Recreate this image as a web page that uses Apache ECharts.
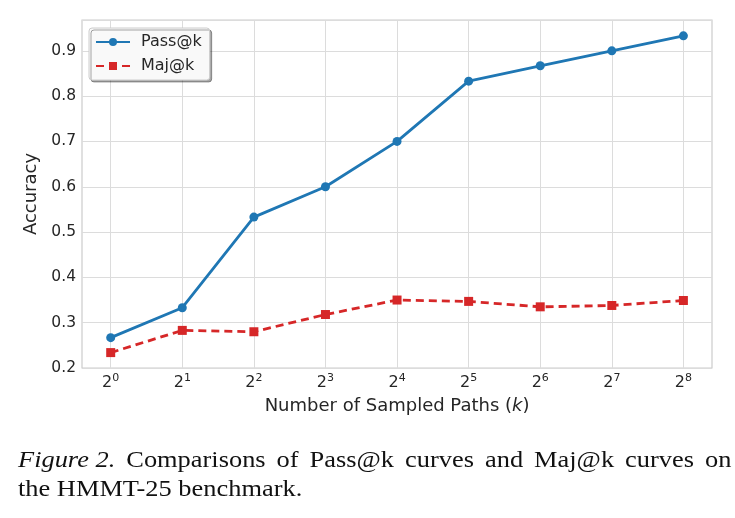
<!DOCTYPE html>
<html>
<head>
<meta charset="utf-8">
<script src="https://cdn.jsdelivr.net/npm/echarts@6/dist/echarts.min.js"></script>
<style>
html, body { margin: 0; padding: 0; background: #fff; }
#chart { width: 735px; height: 518px; }
</style>
</head>
<body>
<div id="chart"></div>
<script>
// data (x = log2 of k)
var exponents = [0, 1, 2, 3, 4, 5, 6, 7, 8];
var passAtK = [0.267, 0.333, 0.533, 0.600, 0.700, 0.833, 0.867, 0.900, 0.933];
var majAtK = [0.234, 0.283, 0.280, 0.318, 0.350, 0.347, 0.335, 0.338, 0.349];
var yTicks = [0.2, 0.3, 0.4, 0.5, 0.6, 0.7, 0.8, 0.9];
var captionLine1 = ['Comparisons', 'of', 'Pass@k', 'curves', 'and', 'Maj@k', 'curves', 'on'];
var captionLine2 = 'the HMMT-25 benchmark.';

var BLUE = '#1f77b4';
var RED = '#d62728';
var FONT = 'DejaVu Sans';
var SERIF = 'Liberation Serif';

function pairs(vals) {
	return exponents.map(function (e, i) { return [e, vals[i]]; });
}

// first caption line is justified in the paper, so spaces are a bit wider
var caption = '{i|Figure 2.}{w| }' + captionLine1.join('{w| }') + '\n' + captionLine2;

var chart = echarts.init(document.getElementById('chart'));

chart.setOption({
	animation: false,
	backgroundColor: '#fff',
	graphic: [{
		type: 'text',
		x: 18,
		y: 446,
		scaleX: 1.1,
		style: {
			text: caption,
			fontFamily: SERIF,
			fontSize: 24,
			lineHeight: 29,
			fill: '#111',
			verticalAlign: 'top',
			rich: {
				i: { fontFamily: SERIF, fontSize: 24, fontStyle: 'italic', fill: '#111', lineHeight: 29 },
				w: { fontFamily: SERIF, fontSize: 24, width: 10, lineHeight: 29 }
			}
		}
	}],
	legend: {
		left: 89,
		top: 28,
		orient: 'vertical',
		itemWidth: 34,
		itemHeight: 10,
		itemGap: 8,
		padding: [6, 8, 6, 6],
		backgroundColor: '#f9f9f9',
		borderColor: '#cccccc',
		borderWidth: 1,
		borderRadius: 3,
		shadowColor: 'rgba(0,0,0,0.35)',
		shadowBlur: 0,
		shadowOffsetX: 2,
		shadowOffsetY: 2,
		textStyle: { fontFamily: FONT, fontSize: 16, color: '#262626', padding: [0, 0, 0, 6] },
		data: ['Pass@k', 'Maj@k']
	},
	grid: [
		{ left: 82, top: 20, width: 630, height: 348, show: true, borderColor: '#cccccc', borderWidth: 1.2, containLabel: false },
		{ left: 110.7, top: 20, width: 572.7, height: 348, containLabel: false }
	],
	xAxis: [
		{ gridIndex: 0, type: 'value', min: 0, max: 1, show: false },
		{
			gridIndex: 1,
			type: 'value',
			min: 0,
			max: 8,
			interval: 1,
			axisLine: { show: false },
			axisTick: { show: false },
			splitLine: { show: true, lineStyle: { color: '#dcdcdc', width: 1 } },
			axisLabel: {
				margin: 5,
				color: '#262626',
				formatter: function (v) { return '{b|2}{s|' + v + '}'; },
				rich: {
					b: { fontFamily: FONT, fontSize: 16, color: '#262626' },
					s: { fontFamily: FONT, fontSize: 11, color: '#262626', padding: [0, 0, 9, 0] }
				}
			},
			name: 'Number of Sampled Paths ({k|k})',
			nameLocation: 'middle',
			nameGap: 29,
			nameTextStyle: {
				fontFamily: FONT,
				fontSize: 18,
				color: '#262626',
				rich: { k: { fontFamily: FONT, fontSize: 18, fontStyle: 'italic', color: '#262626' } }
			}
		}
	],
	yAxis: [
		{
			gridIndex: 0,
			type: 'value',
			min: 0.2,
			max: 0.968,
			interval: 0.1,
			axisLine: { show: false },
			axisTick: { show: false },
			splitLine: { show: true, lineStyle: { color: '#dcdcdc', width: 1 } },
			axisLabel: {
				margin: 6,
				fontFamily: FONT,
				fontSize: 15.5,
				color: '#262626',
				showMaxLabel: false,
				formatter: function (v) {
					var t = Math.round(v * 10) / 10;
					return yTicks.indexOf(t) >= 0 ? t.toFixed(1) : '';
				}
			},
			name: 'Accuracy',
			nameLocation: 'middle',
			nameGap: 39,
			nameTextStyle: { fontFamily: FONT, fontSize: 18, color: '#262626' }
		},
		{ gridIndex: 1, type: 'value', min: 0.2, max: 0.968, show: false }
	],
	series: [
		{
			name: 'Pass@k',
			type: 'line',
			xAxisIndex: 1,
			yAxisIndex: 1,
			data: pairs(passAtK),
			symbol: 'circle',
			symbolSize: 9,
			lineStyle: { color: BLUE, width: 2.8 },
			itemStyle: { color: BLUE },
			z: 3
		},
		{
			name: 'Maj@k',
			type: 'line',
			xAxisIndex: 1,
			yAxisIndex: 1,
			data: pairs(majAtK),
			symbol: 'rect',
			symbolSize: 9,
			lineStyle: { color: RED, width: 2.8, type: [8, 5] },
			itemStyle: { color: RED },
			z: 2
		}
	]
});
</script>
</body>
</html>
